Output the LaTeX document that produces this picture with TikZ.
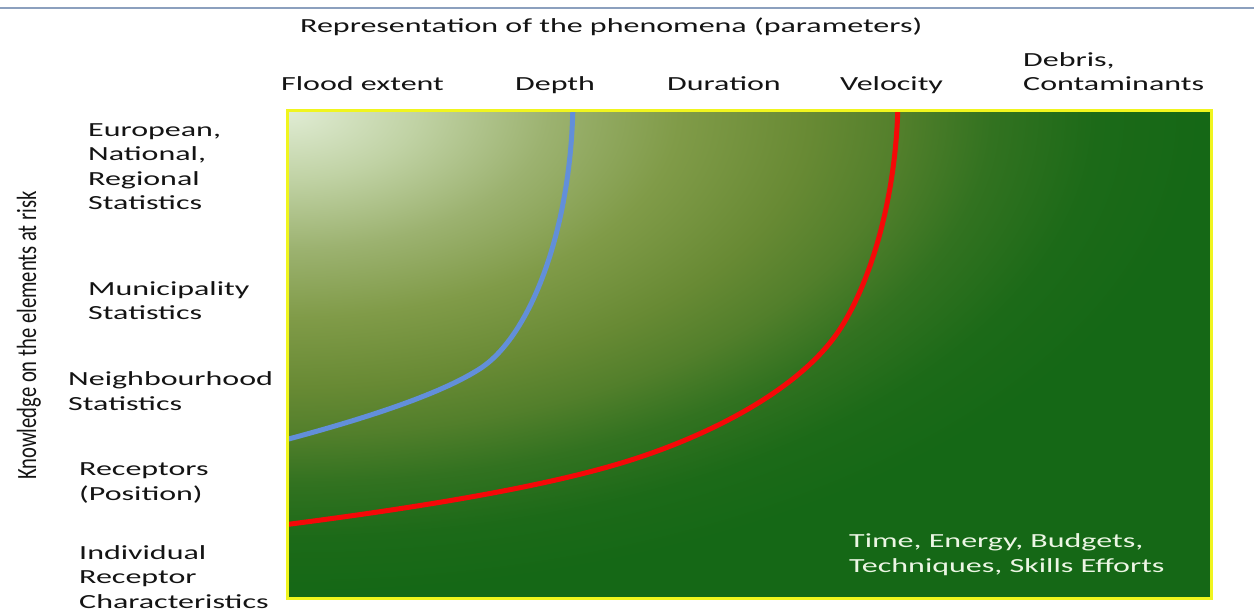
\documentclass[tikz,border=0pt]{standalone}
\usepackage{fontspec}
\setmainfont{Carlito}
\newfontfamily\widefont{Carlito}[FakeStretch=1.6]
\definecolor{g0}{RGB}{224,236,212}
\definecolor{g1}{RGB}{192,210,164}
\definecolor{g2}{RGB}{156,178,112}
\definecolor{g3}{RGB}{128,155,72}
\definecolor{g4}{RGB}{104,138,52}
\definecolor{g5}{RGB}{82,127,43}
\definecolor{g6}{RGB}{50,114,32}
\definecolor{g7}{RGB}{28,106,24}
\definecolor{g8}{RGB}{21,104,22}
\definecolor{topline}{RGB}{140,160,190}
\definecolor{curveblue}{RGB}{98,143,218}
\definecolor{curvered}{RGB}{245,8,8}
\definecolor{boxtext}{RGB}{236,246,228}
\definecolor{labeltext}{RGB}{20,20,20}
\definecolor{boxedge}{RGB}{240,245,30}
\pgfdeclareradialshading{bgshade}{\pgfpointorigin}{color(0bp)=(g0); color(2.5bp)=(g1); color(5bp)=(g2); color(7.5bp)=(g3); color(10bp)=(g4); color(11.75bp)=(g5); color(13.5bp)=(g6); color(15.5bp)=(g7); color(17.5bp)=(g8); color(25bp)=(g8); color(50bp)=(g8)}
\tikzset{
  lab/.style={font=\widefont\fontsize{20}{24.5}\selectfont, inner sep=0pt, text=labeltext, align=left, anchor=base west},
  boxlab/.style={lab, text=boxtext},
  vlab/.style={font=\fontsize{20.6}{24}\selectfont, inner sep=0pt, text=labeltext, rotate=90, anchor=base west},
  curve/.style={line width=5pt, line cap=butt},
}
\begin{document}
\begin{tikzpicture}[x=1pt,y=-1pt]
\useasboundingbox (0,0) rectangle (1254,612);
\fill[white] (0,0) rectangle (1254,612);
\draw[topline, line width=2pt] (0,8.5) -- (1254,8.5);
\begin{scope}
  \clip (287,111) rectangle (1211,598);
  \shade[shading=bgshade] (-1020,-578) rectangle (1594,800);
  \draw[curve, curveblue] (283,440.5) .. controls (360,420) and (440,395) .. (481.5,367.7)
     .. controls (530,335) and (572,230) .. (573,100);
  \draw[curve, curvered] (283,525) .. controls (400,510) and (530,490) .. (617,464.3)
     .. controls (700,440) and (800,392) .. (840.9,327.7)
     .. controls (873.6,276.3) and (897,190) .. (898,100);
\end{scope}
\draw[boxedge, line width=3pt] (287,111) rectangle (1211,598);
\node[lab] (title) at (300,32.7) {Representation of the phenomena (parameters)};
\node[lab] (flood) at (281,90.7) {Flood extent};
\node[lab] (depth) at (515,90.7) {Depth};
\node[lab] (duration) at (667,90.7) {Duration};
\node[lab] (velocity) at (840,90.7) {Velocity};
\node[lab] (debris) at (1023,90.7) {Debris,\\Contaminants};
\node[lab] (european) at (88,210) {European,\\National,\\Regional\\Statistics};
\node[lab] (municipality) at (88,320) {Municipality\\Statistics};
\node[lab] (neighbourhood) at (68,410) {Neighbourhood\\Statistics};
\node[lab] (receptors) at (79,500) {Receptors\\(Position)};
\node[lab] (individual) at (79,608) {Individual\\Receptor\\Characteristics};
\node[boxlab] (effort) at (849,572) {Time, Energy, Budgets,\\Techniques, Skills Efforts};
\node[vlab] (knowledge) at (36,480) {\scalebox{1}[1.35]{Knowledge on the elements at risk}};
\end{tikzpicture}
\end{document}
